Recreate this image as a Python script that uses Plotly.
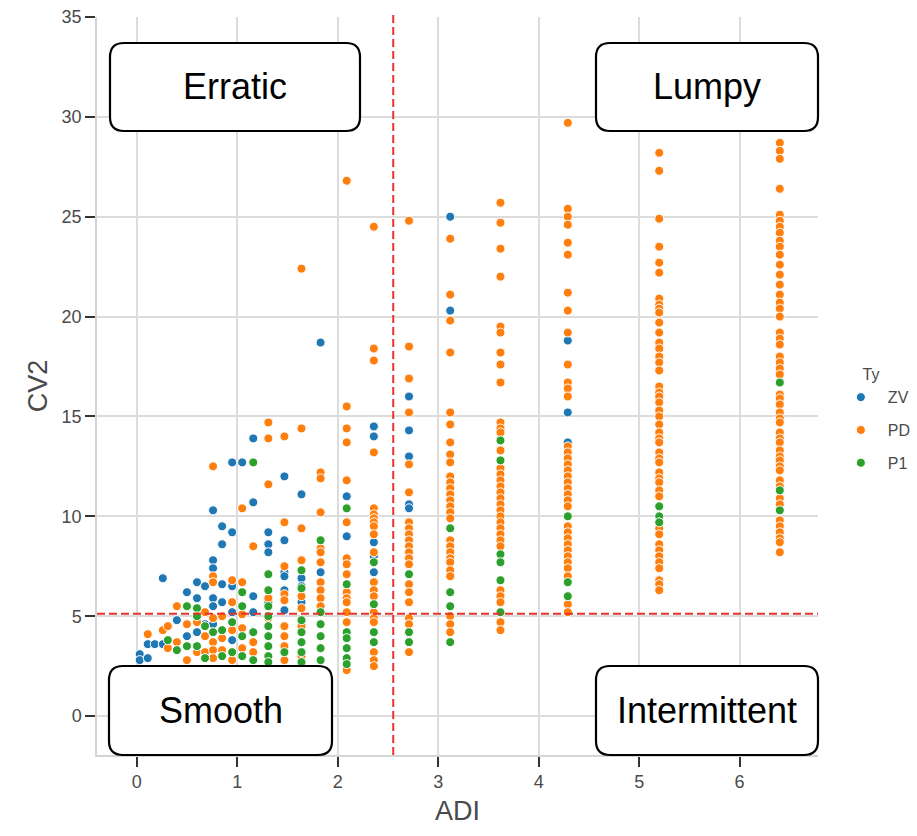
import plotly.graph_objects as go

# ---------------- data ----------------
ADI = [0.03, 0.11, 0.18, 0.26, 0.31, 0.40, 0.50, 0.60, 0.68, 0.76, 0.85, 0.95,
       1.05, 1.16, 1.31, 1.47, 1.64, 1.83, 2.09, 2.36, 2.71, 3.12, 3.62, 4.29,
       5.20, 6.40]

ZV_CV2 = [
    [3.1, 2.8], [3.6, 2.9], [3.6], [6.9, 3.6], [], [4.8], [6.2, 4.0],
    [6.7, 5.9, 4.2], [6.5, 4.6], [10.3, 7.8, 7.4, 5.9, 5.5, 4.6],
    [9.5, 8.6, 6.6, 5.7], [12.7, 9.2, 6.5, 5.2, 3.8], [12.7],
    [13.9, 10.7, 6.0, 5.2], [9.2, 8.6, 8.2, 5.7], [12.0, 8.8, 7.2, 7.0, 6.3, 5.3],
    [11.1, 6.9, 6.5, 5.7], [18.7, 7.2], [11.0, 9.0], [14.5, 14.0, 8.7, 8.0, 7.2],
    [16.0, 14.3, 13.0, 10.6, 10.4], [25.0, 20.3], [], [18.8, 15.2, 13.7], [], [],
]

PD_CV2 = [
    [], [4.1], [], [4.3], [4.5, 3.4], [5.5, 3.7], [4.6, 2.8], [4.7, 3.2],
    [5.2, 4.0, 3.2], [12.5, 7.0, 6.7, 4.9, 3.7, 3.3, 2.9], [5.0, 3.9, 3.3],
    [6.8, 5.7, 4.3, 2.8], [10.4, 6.7, 5.1, 4.4, 3.4], [8.5, 3.7, 3.2],
    [14.7, 13.9, 11.6, 5.9, 4.9],
    [14.0, 9.7, 7.5, 6.1, 5.8, 4.5, 4.0, 3.5, 2.8],
    [22.4, 14.4, 9.4, 7.8, 6.0, 5.4, 4.5, 3.0],
    [12.2, 11.9, 10.2, 8.4, 8.2, 7.7, 6.7, 6.3, 5.9, 5.5],
    [26.8, 15.5, 14.4, 13.7, 11.8, 9.7, 7.9, 7.6, 7.1, 6.2, 5.9, 5.7, 5.2, 4.7, 2.3],
    [24.5, 18.4, 17.8, 13.2, 10.4, 10.1, 9.9, 9.7, 9.5, 9.1, 8.2, 6.7, 6.3, 6.0,
     5.2, 4.9, 4.7, 3.2, 2.8, 2.5],
    [24.8, 18.5, 16.9, 15.2, 12.6, 11.2, 9.7, 9.4, 9.1, 8.8, 8.5, 8.2, 7.9, 7.6,
     6.6, 6.2, 5.7, 4.9, 4.6, 3.2],
    [23.9, 21.1, 19.8, 18.2, 15.2, 14.6, 13.7, 13.1, 12.7, 12.0, 11.7, 11.4, 11.1,
     10.8, 10.5, 10.2, 9.9, 8.8, 8.5, 8.2, 7.9, 7.7, 7.3, 7.0, 5.0, 4.6, 4.2],
    [25.7, 24.7, 23.4, 22.0, 19.5, 19.2, 18.2, 17.6, 16.7, 14.7, 14.4, 14.2, 13.3,
     12.4, 12.1, 11.8, 11.5, 11.2, 10.9, 10.6, 10.3, 10.0, 9.7, 9.4, 9.1, 8.8, 8.5,
     6.3, 6.0, 5.7, 4.7, 4.3],
    [29.7, 25.4, 25.0, 24.6, 23.7, 23.1, 21.2, 20.3, 19.2, 17.6, 16.7, 16.4, 16.0,
     13.5, 13.2, 12.9, 12.6, 12.3, 12.0, 11.7, 11.4, 11.1, 10.8, 10.5, 9.5, 9.2,
     8.9, 8.6, 8.3, 8.0, 7.7, 7.4, 7.0, 5.6, 5.2],
    [28.2, 27.3, 24.9, 23.5, 22.7, 22.2, 20.9, 20.6, 20.4, 20.2, 19.7, 19.2, 18.7,
     18.4, 18.0, 17.7, 17.3, 16.5, 16.2, 16.0, 15.7, 15.3, 15.0, 14.6, 14.2, 13.9,
     13.7, 13.2, 12.9, 12.7, 12.2, 11.9, 11.7, 11.3, 11.0, 9.4, 9.1, 8.6, 8.3, 8.0,
     7.7, 7.4, 6.8, 6.6, 6.3],
    [28.7, 28.3, 27.9, 26.4, 25.1, 24.8, 24.5, 24.2, 23.8, 23.5, 23.1, 22.6, 22.1,
     21.6, 21.1, 20.7, 20.4, 20.0, 19.2, 18.9, 18.6, 18.0, 17.7, 17.4, 17.1, 16.1,
     15.9, 15.6, 15.2, 14.9, 14.7, 14.2, 13.9, 13.7, 13.3, 13.0, 12.8, 12.5, 12.3,
     11.8, 11.5, 10.9, 10.6, 9.8, 9.5, 9.2, 8.9, 8.7, 8.2],
]

P1_CV2 = [
    [], [], [], [], [3.8], [3.3], [5.5, 3.5], [5.4, 5.0, 3.5], [4.5, 2.9], [4.2],
    [4.3, 3.0], [4.7, 3.2], [6.2, 5.5, 4.0, 3.0], [12.7, 4.2, 2.8],
    [7.1, 6.3, 5.5, 5.0, 4.5, 4.0, 3.5, 3.0, 2.7], [3.2],
    [7.3, 6.4, 4.8, 4.2, 3.7, 3.2, 2.7], [8.8, 5.2, 4.6, 4.0, 3.4, 2.8],
    [10.4, 6.6, 4.2, 3.9, 3.4, 2.9, 2.6], [7.7, 5.6, 4.2, 3.7], [7.1, 4.2, 3.7],
    [9.4, 6.2, 5.5, 3.7], [13.8, 12.8, 8.1, 7.7, 6.8, 5.2], [10.0, 6.7, 6.0],
    [10.5, 10.0, 9.7], [16.7, 11.3, 10.3],
]

SERIES = ["ZV", "PD", "P1"]
COLORS = ["#1f77b4", "#ff7f0e", "#2ca02c"]
ADI_CUT = 2.553
CV2_CUT = 5.12
QUADRANTS = ["Erratic", "Lumpy", "Smooth", "Intermittent"]

# ---------------- figure ----------------
W, H = 917, 836
L, R, T, B = 97, 818, 17, 755  # plot area in pixels
FONT = "Liberation Sans, Arial"


def flatten(cols):
    xs, ys = [], []
    for a, vals in zip(ADI, cols):
        for v in vals:
            xs.append(a)
            ys.append(v)
    return xs, ys


fig = go.Figure()
for name, cols, color in zip(SERIES, [ZV_CV2, PD_CV2, P1_CV2], COLORS):
    xs, ys = flatten(cols)
    fig.add_trace(go.Scatter(
        x=xs, y=ys, mode="markers", name=name, legendgroup=name,
        marker=dict(size=9, color=color, line=dict(color="white", width=1)),
    ))


def px2paper(px, py):
    return (px - L) / (R - L), (B - py) / (B - T)


def rounded_rect(x0, y0, x1, y1, r):
    def P(px, py):
        u, v = px2paper(px, py)
        return f"{u:.5f},{v:.5f}"
    return (f"M {P(x0 + r, y0)} L {P(x1 - r, y0)} Q {P(x1, y0)} {P(x1, y0 + r)} "
            f"L {P(x1, y1 - r)} Q {P(x1, y1)} {P(x1 - r, y1)} "
            f"L {P(x0 + r, y1)} Q {P(x0, y1)} {P(x0, y1 - r)} "
            f"L {P(x0, y0 + r)} Q {P(x0, y0)} {P(x0 + r, y0)} Z")


boxes = [(110, 43, 360, 131), (596, 43, 818, 131), (109, 666, 332, 755), (596, 666, 818, 755)]

shapes = [
    dict(type="line", xref="x", yref="paper", x0=ADI_CUT, x1=ADI_CUT, y0=0, y1=1.006,
         line=dict(color="#e8332b", width=2, dash="8px,4px"), layer="above"),
    dict(type="line", xref="paper", yref="y", x0=0, x1=1, y0=CV2_CUT, y1=CV2_CUT,
         line=dict(color="#e8332b", width=2, dash="8px,4px"), layer="above"),
]
annotations = []
for (x0, y0, x1, y1), label in zip(boxes, QUADRANTS):
    shapes.append(dict(type="path", xref="paper", yref="paper",
                       path=rounded_rect(x0, y0, x1, y1, 14),
                       fillcolor="white", line=dict(color="black", width=2.2), layer="above"))
    cx, cy = px2paper((x0 + x1) / 2, (y0 + y1) / 2)
    annotations.append(dict(x=cx, y=cy, xref="paper", yref="paper", text=label,
                            showarrow=False, xanchor="center", yanchor="middle",
                            font=dict(family=FONT, size=36, color="black")))

axis_common = dict(
    showgrid=True, gridcolor="#dcdcdc", gridwidth=1.5,
    showline=True, linecolor="#d4d4d4", linewidth=1.5,
    ticks="outside", ticklen=10, tickwidth=1.5, tickcolor="#333333",
    tickfont=dict(family=FONT, size=18, color="#4a4a4a"),
    zeroline=False, automargin=False,
)

fig.update_layout(
    width=W, height=H, autosize=False,
    margin=dict(l=L, r=W - R, t=T, b=H - B, autoexpand=False),
    paper_bgcolor="white", plot_bgcolor="white",
    xaxis=dict(range=[-0.395, 6.78], tickvals=[0, 1, 2, 3, 4, 5, 6],
               title=dict(text="ADI", font=dict(family=FONT, size=27, color="#4a4a4a"),
                          standoff=10),
               **axis_common),
    yaxis=dict(range=[-1.95, 35], tickvals=[0, 5, 10, 15, 20, 25, 30, 35],
               title=dict(text="CV2", font=dict(family=FONT, size=27, color="#4a4a4a"),
                          standoff=6),
               **axis_common),
    shapes=shapes,
    annotations=annotations,
    showlegend=True,
    legend=dict(
        title=dict(text="\u00a0\u00a0\u00a0\u00a0\u00a0\u00a0Ty",
                   font=dict(family=FONT, size=16, color="#4a4a4a")),
        font=dict(family=FONT, size=16, color="#4a4a4a"),
        x=1.022, xanchor="left", y=0.454, yanchor="middle",
        tracegroupgap=9, itemwidth=44, bgcolor="rgba(0,0,0,0)",
    ),
)

fig.write_html("out.html")
